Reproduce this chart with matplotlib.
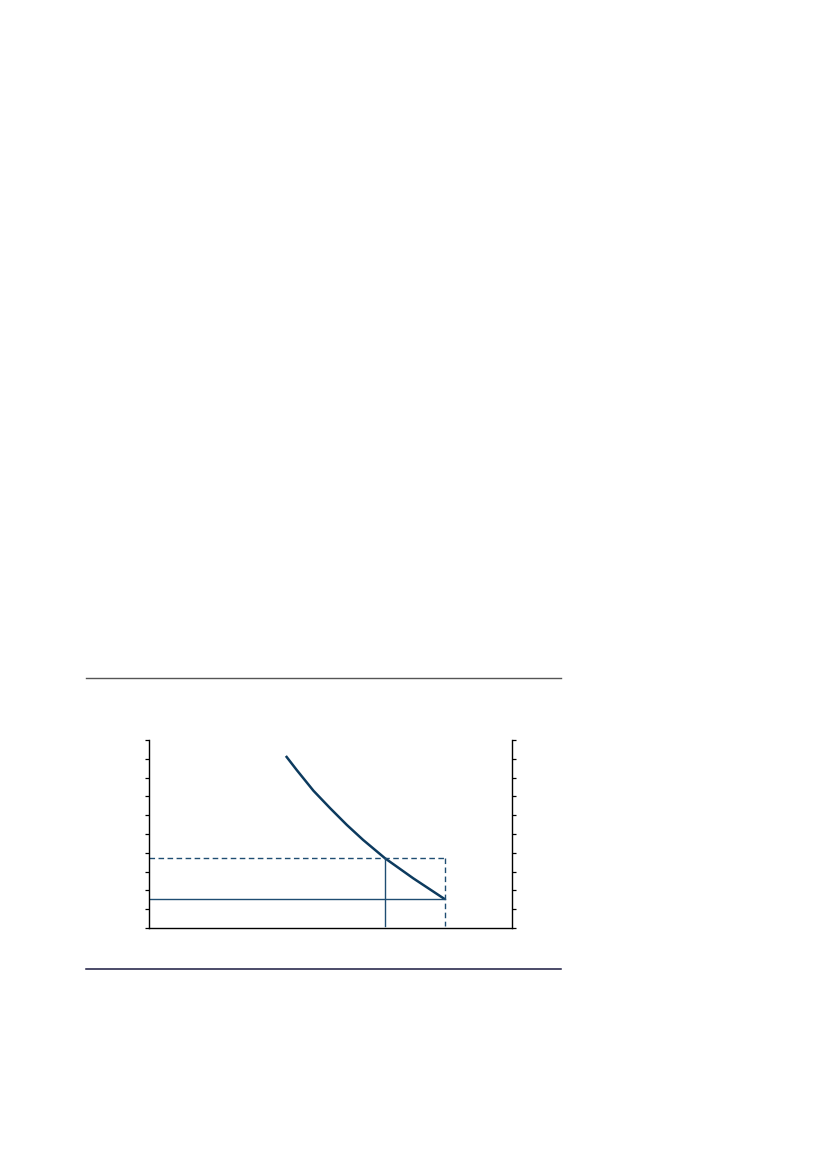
import matplotlib
matplotlib.use("Agg")
import matplotlib.pyplot as plt
from matplotlib.lines import Line2D

# curve (x, y in axis units 0..10)
curve_x = [3.77, 4.07, 4.53, 4.99, 5.45, 5.90, 6.50, 7.28, 8.15]
curve_y = [9.15, 8.40, 7.30, 6.37, 5.48, 4.68, 3.71, 2.64, 1.53]

# guide lines
x_mid, y_mid = 6.50, 3.71   # point where the dashed level meets the curve
x_end, y_end = 8.15, 1.53   # end of curve
y_ticks = list(range(0, 11))

navy = "#0c3a5e"
guide = "#1f4d72"

fig = plt.figure(figsize=(8.27, 11.69), dpi=100)
ax = fig.add_axes([0.1802, 0.2062, 0.4389, 0.1608])

ax.plot(curve_x, curve_y, color=navy, lw=1.8, solid_capstyle="butt",
        solid_joinstyle="round")
# dashed level line and its drop
ax.plot([0, x_end], [y_mid, y_mid], color=guide, lw=1.0, ls=(0, (4, 2.5)))
ax.plot([x_end, x_end], [y_mid, 0.1], color=guide, lw=1.0, ls=(0, (4, 2.5)))
# solid level line and its drop
ax.plot([0, x_end], [y_end, y_end], color=guide, lw=1.0)
ax.plot([x_mid, x_mid], [y_mid, 0.1], color=guide, lw=1.0)

ax.set_xlim(0, 10)
ax.set_ylim(0, 10)
ax.set_yticks(y_ticks)
ax.set_yticklabels([])
ax.set_xticks([])
ax.tick_params(axis="y", direction="out", length=3, width=0.9, color="black",
               left=True, right=True)
ax.spines["top"].set_visible(False)
for s in ["left", "right", "bottom"]:
    ax.spines[s].set_linewidth(1.0)
    ax.spines[s].set_color("black")

# horizontal rules above and below the chart
fig.add_artist(Line2D([0.104, 0.678], [0.4198, 0.4198], color="#555555", lw=1.0))
fig.add_artist(Line2D([0.104, 0.678], [0.1708, 0.1708], color="#1a1a40", lw=1.1))

fig.savefig("out.png", dpi=100)
